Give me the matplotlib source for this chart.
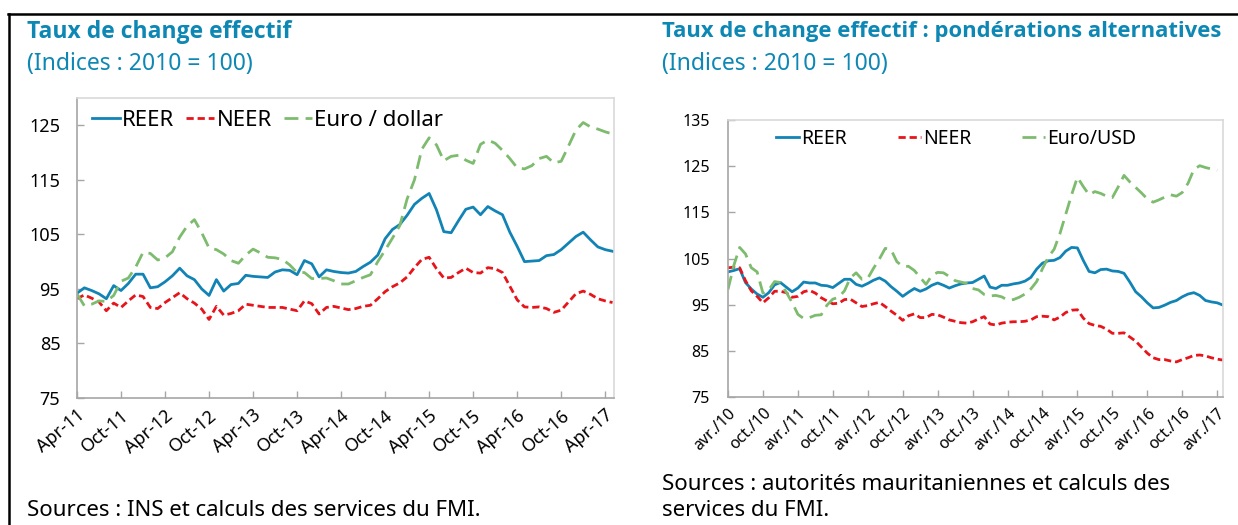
import numpy as np
import matplotlib
matplotlib.use("Agg")
import matplotlib.pyplot as plt
from matplotlib.lines import Line2D
from matplotlib import font_manager

plt.rcParams['font.family'] = ['Noto Sans', 'DejaVu Sans']

# Left panel: monthly indices, Apr-11 .. May-17
left_reer = [94.2, 95.2, 94.7, 94.1, 93.2, 95.6, 94.7, 96.0, 97.7, 97.7, 95.2, 95.4,
             96.3, 97.4, 98.8, 97.4, 96.7, 95.0, 93.8, 96.7, 94.6, 95.8, 96.0, 97.5,
             97.3, 97.2, 97.1, 98.1, 98.5, 98.4, 97.6, 100.2, 99.6, 97.2, 98.5, 98.2,
             98.0, 97.9, 98.2, 99.1, 99.9, 101.2, 104.2, 105.9, 106.8, 108.5, 110.5, 111.6,
             112.5, 109.5, 105.5, 105.3, 107.5, 109.6, 110.0, 108.6, 110.1, 109.3, 108.6, 105.4,
             102.8, 100.0, 100.1, 100.2, 101.1, 101.3, 102.2, 103.4, 104.6, 105.4, 104.0, 102.7,
             102.2, 101.9]
left_neer = [93.2, 93.9, 93.3, 92.6, 91.0, 92.4, 91.6, 92.8, 93.9, 93.6, 91.6, 91.4,
             92.5, 93.4, 94.3, 93.2, 92.4, 91.3, 89.4, 91.8, 90.2, 90.5, 91.0, 92.2,
             92.0, 91.8, 91.6, 91.6, 91.6, 91.3, 91.0, 92.8, 92.3, 90.4, 91.6, 91.8,
             91.5, 91.2, 91.4, 91.8, 92.0, 93.2, 94.5, 95.4, 96.1, 97.2, 98.9, 100.4,
             100.8, 98.7, 97.0, 97.1, 98.0, 98.8, 98.0, 97.9, 98.9, 98.7, 98.0, 95.5,
             93.0, 91.7, 91.6, 91.7, 91.4, 90.7, 91.1, 92.6, 94.1, 94.6, 94.0, 93.2,
             92.8, 92.5]
left_eurusd = [94.1, 91.9, 92.2, 92.8, 92.7, 93.8, 96.4, 97.0, 99.0, 101.7, 101.5, 100.3,
               100.7, 101.8, 104.5, 106.5, 107.7, 105.3, 102.5, 102.2, 101.4, 100.2, 99.7, 101.2,
               102.3, 101.6, 100.8, 100.7, 100.4, 99.4, 98.0, 98.0, 96.9, 96.9, 97.0, 96.5,
               95.9, 95.9, 96.5, 97.1, 97.6, 100.0, 102.1, 104.3, 106.6, 111.5, 115.0, 120.6,
               122.7, 121.4, 118.5, 119.3, 119.5, 118.6, 118.0, 121.5, 122.3, 121.7, 120.4, 118.9,
               117.2, 117.0, 117.6, 118.9, 119.3, 118.1, 118.4, 121.2, 124.1, 125.5, 124.7, 124.3,
               123.8, 123.4]
left_ticklabels = ['Apr-11', 'Oct-11', 'Apr-12', 'Oct-12', 'Apr-13', 'Oct-13', 'Apr-14',
                   'Oct-14', 'Apr-15', 'Oct-15', 'Apr-16', 'Oct-16', 'Apr-17']

# Right panel: monthly indices, avr. 2010 .. mai 2017
right_reer = [102.1, 102.4, 102.8, 99.8, 98.4, 97.3, 96.6, 97.6, 99.3, 99.8, 98.8, 97.8,
              98.6, 99.9, 99.7, 99.7, 99.2, 99.1, 98.7, 99.6, 100.5, 100.5, 99.4, 99.0,
              99.6, 100.3, 100.8, 100.1, 98.9, 97.9, 96.8, 97.7, 98.5, 97.9, 98.4, 99.2,
              99.7, 99.2, 98.6, 99.1, 99.5, 99.7, 99.8, 100.5, 101.2, 98.8, 98.5, 99.2,
              99.2, 99.5, 99.7, 100.1, 100.9, 102.7, 104.0, 104.5, 104.6, 105.2, 106.6, 107.4,
              107.3, 104.6, 102.2, 101.9, 102.6, 102.7, 102.3, 102.2, 101.8, 99.9, 97.8, 96.7,
              95.4, 94.3, 94.4, 94.9, 95.5, 95.9, 96.7, 97.3, 97.6, 97.0, 95.9, 95.6,
              95.4, 94.9]
right_neer = [103.0, 103.1, 103.0, 100.2, 98.0, 96.8, 95.4, 96.5, 97.9, 97.9, 97.6, 96.6,
              96.8, 97.8, 98.1, 97.5, 96.5, 95.8, 95.2, 95.3, 96.1, 96.2, 95.4, 94.6,
              94.8, 95.2, 95.5, 94.6, 93.6, 92.7, 91.6, 92.6, 93.0, 92.2, 92.2, 92.9,
              92.8, 92.3, 91.7, 91.4, 91.1, 91.0, 91.3, 91.9, 92.4, 90.8, 90.6, 91.0,
              91.2, 91.3, 91.3, 91.4, 91.7, 92.4, 92.5, 92.4, 91.7, 92.3, 93.3, 93.8,
              93.9, 92.1, 90.9, 90.5, 90.3, 89.7, 88.8, 88.8, 88.9, 88.0, 87.1, 85.8,
              84.5, 83.5, 83.1, 83.1, 82.8, 82.6, 83.1, 83.5, 84.0, 84.1, 83.9, 83.5,
              83.2, 83.0]
right_eurusd = [98.3, 103.5, 107.4, 106.0, 103.0, 102.1, 97.5, 98.2, 100.0, 99.8, 97.7, 95.5,
                92.9, 92.0, 92.2, 92.7, 92.8, 94.9, 96.2, 96.6, 98.0, 100.8, 101.9, 100.5,
                100.7, 102.9, 104.9, 107.2, 106.9, 104.3, 103.3, 103.3, 102.4, 100.9, 99.4, 101.3,
                102.0, 101.9, 101.1, 100.2, 99.9, 99.6, 98.5, 98.2, 97.2, 96.9, 97.0, 96.7,
                96.0, 96.1, 96.6, 97.3, 98.4, 100.0, 102.8, 105.3, 107.0, 110.4, 114.6, 118.8,
                122.6, 120.6, 118.8, 119.5, 119.1, 118.5, 118.2, 120.5, 123.0, 121.6, 120.4, 119.2,
                117.9, 117.2, 117.7, 118.3, 118.8, 118.5, 119.3, 121.3, 124.3, 125.1, 124.7, 124.4,
                124.1, np.nan]
right_ticklabels = ['avr./10', 'oct./10', 'avr./11', 'oct./11', 'avr./12', 'oct./12',
                    'avr./13', 'oct./13', 'avr./14', 'oct./14', 'avr./15', 'oct./15',
                    'avr./16', 'oct./16', 'avr./17']

TITLE_BLUE = '#0d87b4'
REER_BLUE = '#1283b5'
NEER_RED = '#e8141b'
EUR_GREEN = '#7dbb6e'


def bold_family():
    # first family in the list that really ships a bold face
    for name in ['Noto Sans', 'Open Sans', 'Lato', 'Roboto', 'Liberation Sans', 'DejaVu Sans']:
        for f in font_manager.fontManager.ttflist:
            w = f.weight if isinstance(f.weight, int) else 400
            if f.name == name and (w >= 600 or f.weight == 'bold'):
                return name
    return 'DejaVu Sans'


TITLE_FONT = bold_family()

W, H = 1238, 525
fig = plt.figure(figsize=(W / 100, H / 100), dpi=100)


def fx(px):
    return px / W


def fy(py):
    return 1 - py / H


def style_axes(ax, tick_size, ypad):
    for side in ('left', 'bottom'):
        ax.spines[side].set_color('#a6a6a6')
        ax.spines[side].set_linewidth(1.2)
    for side in ('top', 'right'):
        ax.spines[side].set_color('#d9d9d9')
        ax.spines[side].set_linewidth(1.2)
    ax.tick_params(direction='in', length=5, color='#a6a6a6', width=1,
                   labelsize=tick_size, labelcolor='black')
    ax.tick_params(axis='y', pad=ypad)
    ax.tick_params(axis='x', pad=6)


def draw_lines(ax, reer, neer, eur, labels):
    x = np.arange(len(reer))
    ax.plot(x, reer, color=REER_BLUE, lw=2.0, label=labels[0], solid_joinstyle='round')
    ax.plot(x, neer, color=NEER_RED, lw=2.0, dashes=(2.6, 1.4), label=labels[1])
    ax.plot(x, eur, color=EUR_GREEN, lw=2.0, dashes=(5, 2.6), label=labels[2])


# ---- left panel ----
ax1 = fig.add_axes([fx(77), fy(398), fx(614) - fx(77), fy(98) - fy(398)])
draw_lines(ax1, left_reer, left_neer, left_eurusd, ['REER', 'NEER', 'Euro / dollar'])
ax1.set_xlim(0, 73.2)
ax1.set_ylim(75, 130)
ax1.set_yticks([75, 85, 95, 105, 115, 125])
ax1.set_xticks(np.arange(0, 73, 6))
ax1.set_xticklabels(left_ticklabels, rotation=40, ha='right', va='top',
                    rotation_mode='anchor')
style_axes(ax1, 13, 12)
ax1.legend(loc='center left', bbox_to_anchor=(fx(92), fy(120)),
           bbox_transform=fig.transFigure, ncol=3, frameon=False, fontsize=16,
           handlelength=1.25, handletextpad=0.1, columnspacing=0.55,
           borderpad=0, borderaxespad=0)

# ---- right panel ----
ax2 = fig.add_axes([fx(728), fy(397), fx(1223) - fx(728), fy(120) - fy(397)])
draw_lines(ax2, right_reer, right_neer, right_eurusd, ['REER', 'NEER', 'Euro/USD'])
ax2.set_xlim(0, 85)
ax2.set_ylim(75, 135)
ax2.set_yticks([75, 85, 95, 105, 115, 125, 135])
ax2.set_xticks(np.arange(0, 85, 6))
ax2.set_xticklabels(right_ticklabels, rotation=45, ha='right', va='top',
                    rotation_mode='anchor')
style_axes(ax2, 11.5, 13)
ax2.legend(loc='center left', bbox_to_anchor=(fx(776), fy(139)),
           bbox_transform=fig.transFigure, ncol=3, frameon=False, fontsize=14,
           handlelength=1.2, handletextpad=0.1, columnspacing=2.6,
           borderpad=0, borderaxespad=0)

# ---- titles and notes ----
title_kw = dict(color=TITLE_BLUE, fontweight='bold', va='center',
                ha='left', family=[TITLE_FONT, 'DejaVu Sans'])
sub_kw = dict(color=TITLE_BLUE, fontsize=16.5, va='center', ha='left')
note_kw = dict(color='black', fontsize=16, va='center', ha='left')

fig.text(fx(27), fy(32), 'Taux de change effectif', fontsize=16.5, **title_kw)
fig.text(fx(27), fy(64), '(Indices : 2010 = 100)', **sub_kw)
fig.text(fx(662), fy(32), 'Taux de change effectif : pondérations alternatives',
         fontsize=15.8, **title_kw)
fig.text(fx(662), fy(64), '(Indices : 2010 = 100)', **sub_kw)
fig.text(fx(27), fy(510), 'Sources : INS et calculs des services du FMI.', **note_kw)
fig.text(fx(662), fy(484), 'Sources : autorités mauritaniennes et calculs des', **note_kw)
fig.text(fx(662), fy(511), 'services du FMI.', **note_kw)

# ---- outer frame ----
fig.add_artist(Line2D([fx(8), 1], [fy(14), fy(14)], color='black', lw=1.8,
                      transform=fig.transFigure))
fig.add_artist(Line2D([fx(9), fx(9)], [fy(14), 0], color='black', lw=1.8,
                      transform=fig.transFigure))

fig.savefig('out.png', dpi=100)
